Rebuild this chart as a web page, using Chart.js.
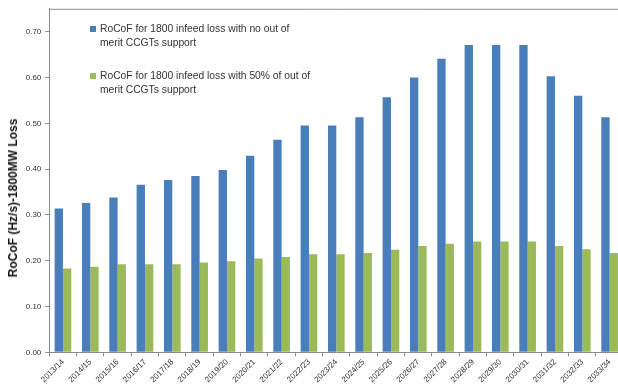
<!DOCTYPE html>
<html>
<head>
<meta charset="utf-8">
<script src="https://cdn.jsdelivr.net/npm/chart.js@4"></script>
<style>
    html, body { margin: 0; padding: 0; background: #fff; overflow: hidden; }
    #wrap { position: relative; width: 618px; height: 387px; overflow: hidden; }
    #rocofChart { position: absolute; left: 0; top: 0; }
    #yTitle {
        position: absolute; left: 13px; top: 198px;
        transform: translate(-50%, -50%) rotate(-90deg);
        font: bold 12px "Liberation Sans", Arial, sans-serif;
        color: #111; white-space: nowrap;
    }
    #legend { position: absolute; left: 89px; top: 22px; font: 10.3px "Liberation Sans", Arial, sans-serif; color: #333; }
    .item { position: relative; padding-left: 11px; line-height: 14px; width: 214px; margin-bottom: 19px; }
    .item .box { position: absolute; left: 1px; top: 4px; width: 6px; height: 6px; }
</style>
</head>
<body>
<div id="wrap">
    <canvas id="rocofChart" width="624" height="387"></canvas>
    <div id="yTitle">RoCoF (Hz/s)-1800MW Loss</div>
    <div id="legend"></div>
</div>
<script>
const years = ['2013/14', '2014/15', '2015/16', '2016/17', '2017/18', '2018/19', '2019/20',
    '2020/21', '2021/22', '2022/23', '2023/24', '2024/25', '2025/26', '2026/27',
    '2027/28', '2028/29', '2029/30', '2030/31', '2031/32', '2032/33', '2033/34'];

const noSupport = [0.314, 0.326, 0.338, 0.366, 0.376, 0.385, 0.398, 0.429, 0.464, 0.495, 0.495,
    0.513, 0.557, 0.600, 0.641, 0.671, 0.671, 0.671, 0.603, 0.560, 0.513];

const halfSupport = [0.183, 0.187, 0.192, 0.192, 0.192, 0.196, 0.199, 0.205, 0.208, 0.214, 0.214,
    0.217, 0.224, 0.232, 0.237, 0.242, 0.242, 0.242, 0.232, 0.225, 0.217];

const seriesNames = ['RoCoF for 1800 infeed loss with no out of merit CCGTs support',
    'RoCoF for 1800 infeed loss with 50% of out of merit CCGTs support'];
const yTicks = [0, 0.1, 0.2, 0.3, 0.4, 0.5, 0.6, 0.7];

// top frame line of the plot area
const frameTop = {
    id: 'frameTop',
    afterDraw(chart) {
        const { ctx, chartArea } = chart;
        ctx.save();
        ctx.strokeStyle = '#8c8c8c';
        ctx.lineWidth = 1;
        ctx.beginPath();
        ctx.moveTo(chartArea.left, chartArea.top + 0.5);
        ctx.lineTo(chartArea.right, chartArea.top + 0.5);
        ctx.stroke();
        ctx.restore();
    }
};

const ctx = document.getElementById('rocofChart').getContext('2d');
const chart = new Chart(ctx, {
    type: 'bar',
    data: {
        labels: years,
        datasets: [
            { label: seriesNames[0], data: noSupport, backgroundColor: '#4a7ebb' },
            { label: seriesNames[1], data: halfSupport, backgroundColor: '#9bbb59' }
        ]
    },
    options: {
        responsive: false,
        animation: false,
        devicePixelRatio: 1,
        layout: { padding: { top: 6, right: 0.7, left: 0, bottom: 0 } },
        datasets: { bar: { categoryPercentage: 0.61, barPercentage: 1.0, borderWidth: 0 } },
        plugins: { legend: { display: false }, tooltip: { enabled: false } },
        scales: {
            x: {
                grid: { drawOnChartArea: false, color: '#8c8c8c', tickLength: 4, offset: true },
                border: { color: '#8c8c8c' },
                ticks: {
                    minRotation: 45, maxRotation: 45, autoSkip: false, padding: 1,
                    color: '#333', font: { family: 'Liberation Sans', size: 8 }
                },
                afterFit: (s) => { s.height = 34.7; }
            },
            y: {
                min: 0, max: 0.75,
                afterBuildTicks: (s) => { s.ticks = yTicks.map(v => ({ value: v })); },
                grid: { drawOnChartArea: false, color: '#8c8c8c', tickLength: 4 },
                border: { color: '#8c8c8c' },
                ticks: {
                    padding: 4, color: '#333',
                    font: { family: 'Liberation Sans', size: 8 },
                    callback: (v) => Number(v).toFixed(2)
                },
                afterFit: (s) => { s.width = 49.3; }
            }
        }
    },
    plugins: [frameTop]
});

// legend with wrapped labels
document.getElementById('legend').innerHTML = chart.data.datasets.map(ds => `
    <div class="item"><span class="box" style="background:${ds.backgroundColor}"></span>${ds.label}</div>
`).join('');
</script>
</body>
</html>
